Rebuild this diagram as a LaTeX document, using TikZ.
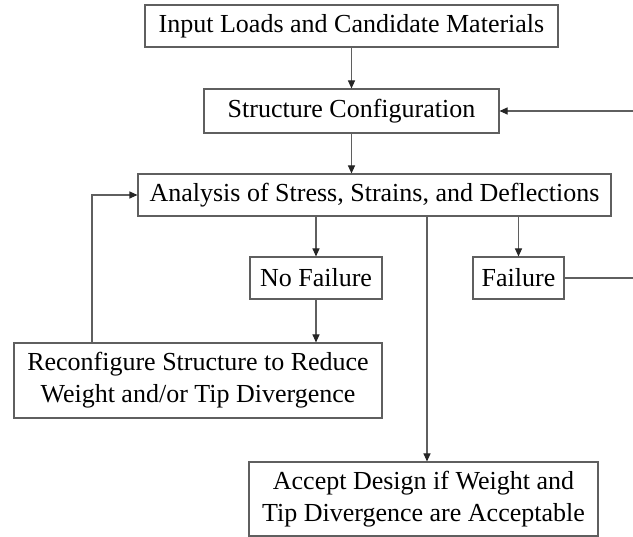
\documentclass[tikz,border=0pt]{standalone}
\usepackage{fontspec}
\setmainfont{Liberation Serif}
\usetikzlibrary{arrows.meta}
\definecolor{edge}{RGB}{95,95,95}
\tikzset{
  box/.style={draw=edge, line width=1.1pt, inner sep=0pt, align=center,
    font=\fontsize{26}{32}\selectfont, text=black},
  conn/.style={draw=edge, line width=1.1pt},
  arr/.style={conn, -{Triangle[length=8pt,width=7pt,color=black!85]}}
}
\begin{document}
\begin{tikzpicture}[x=1pt,y=-1pt]
\useasboundingbox (0,0) rectangle (633,537);
\node[box, minimum width=413pt, minimum height=42pt] (in) at (351.5,26) {Input Loads and Candidate Materials};
\node[box, minimum width=295pt, minimum height=44pt] (sc) at (351.5,111) {Structure Configuration};
\node[box, minimum width=473pt, minimum height=42pt] (an) at (374.5,195) {Analysis of Stress, Strains, and Deflections};
\node[box, minimum width=132pt, minimum height=42pt] (nf) at (316,278) {No Failure};
\node[box, minimum width=91pt, minimum height=42pt] (fa) at (518.5,278) {Failure};
\node[box, minimum width=368pt, minimum height=75pt] (rc) at (198,380.5) {Reconfigure Structure to Reduce\\Weight and/or Tip Divergence};
\node[box, minimum width=349pt, minimum height=74pt] (ac) at (423.5,499) {Accept Design if Weight and\\Tip Divergence are Acceptable};
\coordinate (fb) at (633,111);
\coordinate (fr) at (633,278);
\coordinate (lx) at (92,0);
\coordinate (vx) at (427,0);
\draw[arr] (in.south) -- (sc.north);
\draw[arr] (sc.south) -- (sc.south |- an.north);
\draw[arr] (fb) -- (sc.east);
\draw[arr] (an.south -| nf.north) -- (nf.north);
\draw[arr] (an.south -| fa.north) -- (fa.north);
\draw[conn] (fa.east) -- (fr);
\draw[arr] (nf.south) -- (nf.south |- rc.north);
\draw[arr] (rc.north -| lx) |- (an.west);
\draw[arr] (an.south -| vx) -- (ac.north -| vx);
\end{tikzpicture}
\end{document}
